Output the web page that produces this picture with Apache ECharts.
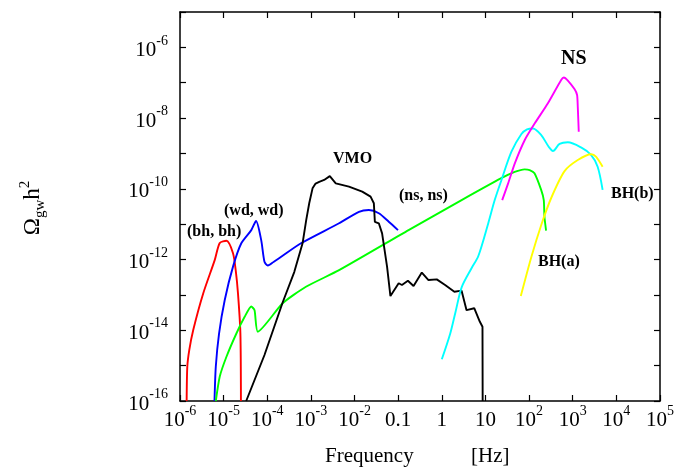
<!DOCTYPE html>
<html>
<head>
<meta charset="utf-8">
<script src="https://cdn.jsdelivr.net/npm/echarts@6/dist/echarts.min.js"></script>
<style>
html,body{margin:0;padding:0;background:#fff;}
#c{width:677px;height:475px;}
</style>
</head>
<body>
<div id="c"></div>
<script>
// ---- data (frequency [Hz], Omega_gw h^2) ----
const bhbhFreq  = [1.42e-6, 1.47e-6, 1.63e-6, 2.01e-6, 3.40e-6, 6.27e-6, 8.15e-6, 1.16e-5, 1.64e-5, 1.89e-5, 2.13e-5, 2.42e-5, 2.49e-5];
const bhbhOmega = [1e-16, 9.3e-16, 2.75e-15, 1.02e-14, 1.10e-13, 9.8e-13, 2.95e-12, 3.39e-12, 1.51e-12, 5.0e-13, 1.12e-13, 8.3e-15, 1e-16];

const wdwdFreq  = [6.17e-6, 6.61e-6, 7.85e-6, 1.06e-5, 1.64e-5, 2.54e-5, 4.30e-5, 5.53e-5, 7.26e-5, 8.63e-5, 1.03e-4, 1.39e-4, 1.90e-4, 5.92e-4, 4.42e-3, 1.26e-2, 2.13e-2, 3.60e-2, 6.08e-2, 9.9e-2];
const wdwdOmega = [1e-16, 9.3e-16, 8.1e-15, 7.2e-14, 6.3e-13, 2.88e-12, 6.8e-12, 1.23e-11, 3.55e-12, 8.7e-13, 6.8e-13, 8.5e-13, 1.10e-12, 2.88e-12, 1.06e-11, 2.24e-11, 2.51e-11, 2.04e-11, 1.17e-11, 6.8e-12];

const nsnsFreq  = [6.61e-6, 8.15e-6, 1.16e-5, 1.96e-5, 3.03e-5, 4.30e-5, 5.11e-5, 6.08e-5, 2.25e-4, 7.69e-4, 4.42e-3, 0.173, 2.84, 23.1, 46.8, 79.0, 103, 133, 189, 217, 225, 245];
const nsnsOmega = [1e-16, 4.9e-16, 1.78e-15, 8.1e-15, 2.4e-14, 4.7e-14, 3.7e-14, 9.1e-15, 5.8e-14, 1.70e-13, 5.0e-13, 6.8e-12, 4.8e-11, 2.0e-10, 3.0e-10, 3.55e-10, 3.4e-10, 2.75e-10, 9.3e-11, 4.8e-11, 1.62e-11, 6.6e-12];

const vmoFreq  = [3.29e-5, 8.63e-5, 2.25e-4, 4.17e-4, 6.44e-4, 7.82e-4, 9.15e-4, 1.09e-3, 1.28e-3, 1.55e-3, 2.01e-3, 2.71e-3, 3.71e-3, 7.45e-3, 1.50e-2, 2.33e-2, 2.77e-2, 2.92e-2, 3.60e-2, 4.28e-2, 5.56e-2, 6.64e-2, 0.1026, 0.122, 0.167, 0.225, 0.348, 0.495, 0.766, 1.19, 1.94, 2.84, 3.69, 5.53, 7.45, 8.55, 8.63];
const vmoOmega = [1e-16, 2.0e-15, 6.1e-14, 4.5e-13, 2.88e-12, 1.32e-11, 3.9e-11, 1.03e-10, 1.41e-10, 1.58e-10, 1.78e-10, 2.29e-10, 1.43e-10, 1.15e-10, 8.3e-11, 6.0e-11, 3.9e-11, 1.17e-11, 1.06e-11, 5.5e-12, 6.3e-13, 9.3e-14, 2.14e-13, 1.91e-13, 2.51e-13, 1.78e-13, 4.3e-13, 2.63e-13, 2.75e-13, 1.91e-13, 1.23e-13, 1.32e-13, 3.7e-14, 4.2e-14, 1.74e-14, 1.26e-14, 1e-16];

const bhbFreq  = [1.0, 1.56, 2.06, 2.86, 4.83, 6.87, 11.6, 16.3, 23.3, 39.4, 66.7, 89.7, 123, 190, 281, 352, 500, 773, 1552, 2624, 3724, 4842];
const bhbOmega = [1.51e-15, 8.1e-15, 3.3e-14, 1.66e-13, 5.75e-13, 1.26e-12, 1.07e-11, 4.8e-11, 1.78e-10, 1.12e-9, 3.55e-9, 4.8e-9, 5.1e-9, 3.3e-9, 1.55e-9, 1.17e-9, 1.86e-9, 2.07e-9, 1.48e-9, 9.1e-10, 4.2e-10, 9.3e-11];

const nsFreq  = [24.2, 33.1, 47.1, 79.6, 135, 270, 543, 626, 773, 1097, 1259, 1305, 1375];
const nsOmega = [4.8e-11, 1.43e-10, 5.25e-10, 2.4e-9, 7.1e-9, 2.63e-8, 1.2e-7, 1.41e-7, 1.15e-7, 6.6e-8, 4.5e-8, 2.1e-8, 4.1e-9];

const bhaFreq  = [64.6, 113, 190, 321, 650, 1305, 2650, 3410, 4842];
const bhaOmega = [9.3e-14, 1.2e-12, 9.5e-12, 5.5e-11, 3.16e-10, 6.5e-10, 9.5e-10, 8.1e-10, 4.2e-10];

const xMin = 1e-6, xMax = 1e5;
const yMin = 1e-16, yMax = 1e-5;

const FONT = '"Liberation Serif", "DejaVu Serif", serif';
const zip = (a, b) => a.map((v, i) => [v, b[i]]);

function expOf(v) { return Math.round(Math.log10(v)); }
const richLab = {
  b: { fontFamily: FONT, fontSize: 21, color: '#000', lineHeight: 27, verticalAlign: 'bottom' },
  s: { fontFamily: FONT, fontSize: 14, color: '#000', lineHeight: 14, verticalAlign: 'top' }
};
function xFmt(v) {
  const e = expOf(v);
  if (e === -1) return '{b|0.1}';
  if (e === 0) return '{b|1}';
  if (e === 1) return '{b|10}';
  return '{b|10}{s|' + e + '}';
}
function yFmt(v) {
  const e = expOf(v);
  if (e % 2 !== 0 || e > -6) return '';
  return '{b|10}{s|' + e + '}';
}

function mk(name, f, o, color, smooth) {
  return {
    name: name, type: 'line', data: zip(f, o), showSymbol: false, symbol: 'none',
    smooth: smooth, lineStyle: { color: color, width: 1.9 }, clip: true, z: 3
  };
}

const chart = echarts.init(document.getElementById('c'), null, { renderer: 'canvas' });
const tick = { show: true, inside: true, length: 6, lineStyle: { color: '#000', width: 1.2 } };
const line = { show: true, onZero: false, lineStyle: { color: '#000', width: 1.5 } };
chart.setOption({
  animation: false,
  backgroundColor: '#fff',
  grid: { left: 180, top: 12, right: 14, bottom: 74 },
  xAxis: [
    { type: 'log', logBase: 10, min: xMin, max: xMax, interval: 1, position: 'bottom',
      axisLine: line, axisTick: tick, splitLine: { show: false }, minorTick: { show: false },
      axisLabel: { formatter: xFmt, rich: richLab, margin: 3, showMinLabel: true, showMaxLabel: true, hideOverlap: false } },
    { type: 'log', logBase: 10, min: xMin, max: xMax, interval: 1, position: 'top',
      axisLine: line, axisTick: tick, splitLine: { show: false }, axisLabel: { show: false } }
  ],
  yAxis: [
    { type: 'log', logBase: 10, min: yMin, max: yMax, interval: 1, position: 'left',
      axisLine: line, axisTick: tick, splitLine: { show: false },
      axisLabel: { formatter: yFmt, rich: richLab, margin: 12, showMinLabel: true, showMaxLabel: true } },
    { type: 'log', logBase: 10, min: yMin, max: yMax, interval: 1, position: 'right',
      axisLine: line, axisTick: tick, splitLine: { show: false }, axisLabel: { show: false } }
  ],
  series: [
    mk('(bh, bh)', bhbhFreq, bhbhOmega, '#ff0000', 0.25),
    mk('(wd, wd)', wdwdFreq, wdwdOmega, '#0000ff', 0.25),
    mk('(ns, ns)', nsnsFreq, nsnsOmega, '#00ff00', 0.2),
    mk('VMO', vmoFreq, vmoOmega, '#000000', false),
    mk('BH(b)', bhbFreq, bhbOmega, '#00ffff', 0.3),
    mk('NS', nsFreq, nsOmega, '#ff00ff', 0.2),
    mk('BH(a)', bhaFreq, bhaOmega, '#ffff00', 0.25)
  ],
  graphic: [
    { type: 'text', left: 187, top: 224, style: { text: '(bh, bh)', font: 'bold 16px ' + FONT, fill: '#000' } },
    { type: 'text', left: 224, top: 203, style: { text: '(wd, wd)', font: 'bold 16px ' + FONT, fill: '#000' } },
    { type: 'text', left: 333, top: 151, style: { text: 'VMO', font: 'bold 16px ' + FONT, fill: '#000' } },
    { type: 'text', left: 399, top: 188, style: { text: '(ns, ns)', font: 'bold 16px ' + FONT, fill: '#000' } },
    { type: 'text', left: 561, top: 49, style: { text: 'NS', font: 'bold 20px ' + FONT, fill: '#000' } },
    { type: 'text', left: 611, top: 186, style: { text: 'BH(b)', font: 'bold 16px ' + FONT, fill: '#000' } },
    { type: 'text', left: 538, top: 254, style: { text: 'BH(a)', font: 'bold 16px ' + FONT, fill: '#000' } },
    { type: 'text', left: 325, top: 446, style: { text: 'Frequency', font: '21px ' + FONT, fill: '#000' } },
    { type: 'text', left: 471, top: 446, style: { text: '[Hz]', font: '21px ' + FONT, fill: '#000' } },
    { type: 'text', x: 33, y: 208, rotation: Math.PI / 2,
      style: {
        text: '{o|Ω}{sub|gw}{n|h}{sup|2}', align: 'center', verticalAlign: 'middle',
        rich: {
          o: { fontFamily: FONT, fontSize: 23, color: '#000', lineHeight: 30, verticalAlign: 'middle' },
          n: { fontFamily: FONT, fontSize: 23, color: '#000', lineHeight: 30, verticalAlign: 'middle' },
          sub: { fontFamily: FONT, fontSize: 15, color: '#000', lineHeight: 15, verticalAlign: 'bottom' },
          sup: { fontFamily: FONT, fontSize: 15, color: '#000', lineHeight: 15, verticalAlign: 'top' }
        }
      } }
  ]
});
</script>
</body>
</html>
